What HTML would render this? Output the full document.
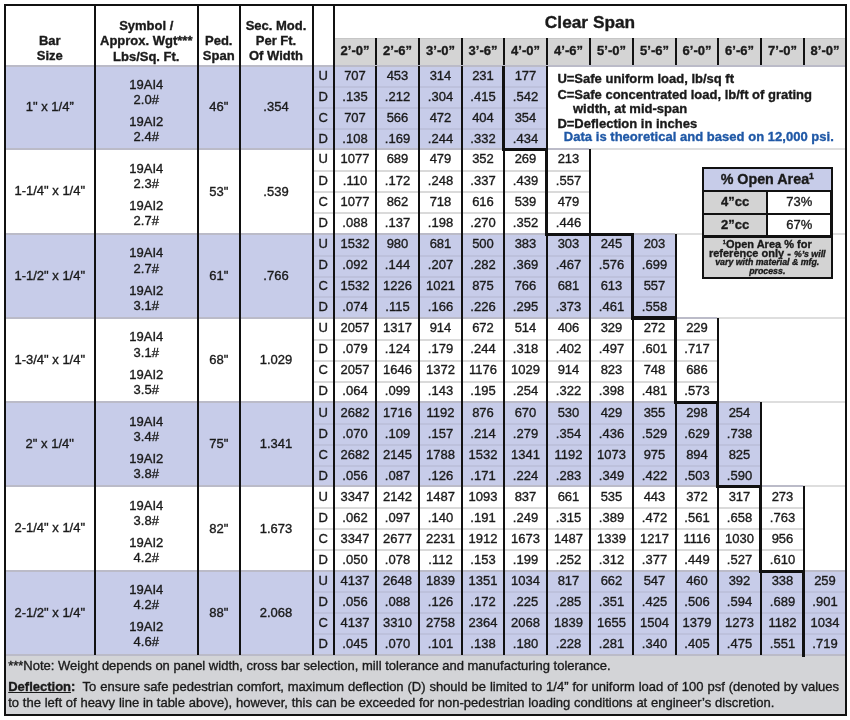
<!DOCTYPE html>
<html><head><meta charset="utf-8"><style>
html,body{margin:0;padding:0;background:#fff;}
body{width:850px;height:720px;position:relative;overflow:hidden;font-family:"Liberation Sans",sans-serif;}
#w{position:absolute;left:0;top:0;width:850px;height:720px;filter:blur(0.3px);}
#w>div{position:absolute;}
.t{white-space:nowrap;-webkit-text-stroke:0.35px currentColor;}
sup{font-size:60%;line-height:0;vertical-align:0.55em;}
sup.s{font-size:50%;vertical-align:0.7em;}
</style></head><body><div id="w">
<div style="left:333.00px;top:38.00px;width:512.00px;height:27.30px;background:#d4d4d4;"></div>
<div style="left:333.00px;top:38.00px;width:512.00px;height:1.00px;background:#c6c6c6;"></div>
<div style="left:4.00px;top:65.80px;width:542.00px;height:83.55px;background:#c7cce9;"></div>
<div style="left:4.00px;top:234.35px;width:671.00px;height:83.85px;background:#c7cce9;"></div>
<div style="left:4.00px;top:402.40px;width:756.00px;height:84.00px;background:#c7cce9;"></div>
<div style="left:4.00px;top:571.30px;width:841.00px;height:83.60px;background:#c7cce9;"></div>
<div style="left:4.00px;top:654.90px;width:841.00px;height:60.10px;background:#d3d4d7;"></div>
<div style="left:311.50px;top:85.94px;width:234.50px;height:2.00px;background:#bdc1dc;"></div>
<div style="left:311.50px;top:106.82px;width:234.50px;height:2.00px;background:#bdc1dc;"></div>
<div style="left:311.50px;top:127.71px;width:234.50px;height:2.00px;background:#bdc1dc;"></div>
<div style="left:311.50px;top:169.85px;width:277.50px;height:2.00px;background:#dadada;"></div>
<div style="left:311.50px;top:191.10px;width:277.50px;height:2.00px;background:#dadada;"></div>
<div style="left:311.50px;top:212.35px;width:277.50px;height:2.00px;background:#dadada;"></div>
<div style="left:311.50px;top:254.56px;width:363.50px;height:2.00px;background:#bdc1dc;"></div>
<div style="left:311.50px;top:275.52px;width:363.50px;height:2.00px;background:#bdc1dc;"></div>
<div style="left:311.50px;top:296.49px;width:363.50px;height:2.00px;background:#bdc1dc;"></div>
<div style="left:311.50px;top:338.50px;width:405.50px;height:2.00px;background:#dadada;"></div>
<div style="left:311.50px;top:359.55px;width:405.50px;height:2.00px;background:#dadada;"></div>
<div style="left:311.50px;top:380.60px;width:405.50px;height:2.00px;background:#dadada;"></div>
<div style="left:311.50px;top:422.65px;width:448.50px;height:2.00px;background:#bdc1dc;"></div>
<div style="left:311.50px;top:443.65px;width:448.50px;height:2.00px;background:#bdc1dc;"></div>
<div style="left:311.50px;top:464.65px;width:448.50px;height:2.00px;background:#bdc1dc;"></div>
<div style="left:311.50px;top:506.88px;width:491.50px;height:2.00px;background:#dadada;"></div>
<div style="left:311.50px;top:528.10px;width:491.50px;height:2.00px;background:#dadada;"></div>
<div style="left:311.50px;top:549.32px;width:491.50px;height:2.00px;background:#dadada;"></div>
<div style="left:311.50px;top:591.45px;width:533.50px;height:2.00px;background:#bdc1dc;"></div>
<div style="left:311.50px;top:612.35px;width:533.50px;height:2.00px;background:#bdc1dc;"></div>
<div style="left:311.50px;top:633.25px;width:533.50px;height:2.00px;background:#bdc1dc;"></div>
<div style="left:4.00px;top:64.80px;width:841.00px;height:2.20px;background:#bbbbc8;"></div>
<div style="left:4.00px;top:148.35px;width:585.00px;height:2.00px;background:#bbbbc8;"></div>
<div style="left:589.00px;top:148.35px;width:256.00px;height:2.00px;background:#dedede;"></div>
<div style="left:4.00px;top:233.35px;width:671.00px;height:2.00px;background:#bbbbc8;"></div>
<div style="left:675.00px;top:233.35px;width:170.00px;height:2.00px;background:#dedede;"></div>
<div style="left:4.00px;top:317.20px;width:713.00px;height:2.00px;background:#bbbbc8;"></div>
<div style="left:717.00px;top:317.20px;width:128.00px;height:2.00px;background:#dedede;"></div>
<div style="left:4.00px;top:401.40px;width:756.00px;height:2.00px;background:#bbbbc8;"></div>
<div style="left:760.00px;top:401.40px;width:85.00px;height:2.00px;background:#dedede;"></div>
<div style="left:4.00px;top:485.40px;width:799.00px;height:2.00px;background:#bbbbc8;"></div>
<div style="left:803.00px;top:485.40px;width:42.00px;height:2.00px;background:#dedede;"></div>
<div style="left:4.00px;top:570.30px;width:841.00px;height:2.00px;background:#bbbbc8;"></div>
<div style="left:4.00px;top:653.90px;width:841.00px;height:2.00px;background:#bbbbc8;"></div>
<div style="left:93.50px;top:4.00px;width:2.00px;height:650.90px;background:#111;"></div>
<div style="left:197.00px;top:4.00px;width:2.00px;height:650.90px;background:#111;"></div>
<div style="left:238.50px;top:4.00px;width:2.00px;height:650.90px;background:#111;"></div>
<div style="left:311.50px;top:4.00px;width:2.00px;height:650.90px;background:#111;"></div>
<div style="left:333.00px;top:4.00px;width:2.00px;height:650.90px;background:#111;"></div>
<div style="left:375.00px;top:38.00px;width:2.00px;height:27.30px;background:#111;"></div>
<div style="left:375.00px;top:65.80px;width:2.00px;height:83.55px;background:#111;"></div>
<div style="left:375.00px;top:149.35px;width:2.00px;height:85.00px;background:#111;"></div>
<div style="left:375.00px;top:234.35px;width:2.00px;height:83.85px;background:#111;"></div>
<div style="left:375.00px;top:318.20px;width:2.00px;height:84.20px;background:#111;"></div>
<div style="left:375.00px;top:402.40px;width:2.00px;height:84.00px;background:#111;"></div>
<div style="left:375.00px;top:486.40px;width:2.00px;height:84.90px;background:#111;"></div>
<div style="left:375.00px;top:571.30px;width:2.00px;height:83.60px;background:#111;"></div>
<div style="left:418.00px;top:38.00px;width:2.00px;height:27.30px;background:#111;"></div>
<div style="left:418.00px;top:65.80px;width:2.00px;height:83.55px;background:#111;"></div>
<div style="left:418.00px;top:149.35px;width:2.00px;height:85.00px;background:#111;"></div>
<div style="left:418.00px;top:234.35px;width:2.00px;height:83.85px;background:#111;"></div>
<div style="left:418.00px;top:318.20px;width:2.00px;height:84.20px;background:#111;"></div>
<div style="left:418.00px;top:402.40px;width:2.00px;height:84.00px;background:#111;"></div>
<div style="left:418.00px;top:486.40px;width:2.00px;height:84.90px;background:#111;"></div>
<div style="left:418.00px;top:571.30px;width:2.00px;height:83.60px;background:#111;"></div>
<div style="left:461.00px;top:38.00px;width:2.00px;height:27.30px;background:#111;"></div>
<div style="left:461.00px;top:65.80px;width:2.00px;height:83.55px;background:#111;"></div>
<div style="left:461.00px;top:149.35px;width:2.00px;height:85.00px;background:#111;"></div>
<div style="left:461.00px;top:234.35px;width:2.00px;height:83.85px;background:#111;"></div>
<div style="left:461.00px;top:318.20px;width:2.00px;height:84.20px;background:#111;"></div>
<div style="left:461.00px;top:402.40px;width:2.00px;height:84.00px;background:#111;"></div>
<div style="left:461.00px;top:486.40px;width:2.00px;height:84.90px;background:#111;"></div>
<div style="left:461.00px;top:571.30px;width:2.00px;height:83.60px;background:#111;"></div>
<div style="left:503.00px;top:38.00px;width:2.00px;height:27.30px;background:#111;"></div>
<div style="left:503.00px;top:65.80px;width:2.00px;height:83.55px;background:#111;"></div>
<div style="left:503.00px;top:149.35px;width:2.00px;height:85.00px;background:#111;"></div>
<div style="left:503.00px;top:234.35px;width:2.00px;height:83.85px;background:#111;"></div>
<div style="left:503.00px;top:318.20px;width:2.00px;height:84.20px;background:#111;"></div>
<div style="left:503.00px;top:402.40px;width:2.00px;height:84.00px;background:#111;"></div>
<div style="left:503.00px;top:486.40px;width:2.00px;height:84.90px;background:#111;"></div>
<div style="left:503.00px;top:571.30px;width:2.00px;height:83.60px;background:#111;"></div>
<div style="left:546.00px;top:38.00px;width:2.00px;height:27.30px;background:#111;"></div>
<div style="left:546.00px;top:65.80px;width:2.00px;height:83.55px;background:#111;"></div>
<div style="left:546.00px;top:149.35px;width:2.00px;height:85.00px;background:#111;"></div>
<div style="left:546.00px;top:234.35px;width:2.00px;height:83.85px;background:#111;"></div>
<div style="left:546.00px;top:318.20px;width:2.00px;height:84.20px;background:#111;"></div>
<div style="left:546.00px;top:402.40px;width:2.00px;height:84.00px;background:#111;"></div>
<div style="left:546.00px;top:486.40px;width:2.00px;height:84.90px;background:#111;"></div>
<div style="left:546.00px;top:571.30px;width:2.00px;height:83.60px;background:#111;"></div>
<div style="left:589.00px;top:38.00px;width:2.00px;height:27.30px;background:#111;"></div>
<div style="left:589.00px;top:149.35px;width:2.00px;height:85.00px;background:#111;"></div>
<div style="left:589.00px;top:234.35px;width:2.00px;height:83.85px;background:#111;"></div>
<div style="left:589.00px;top:318.20px;width:2.00px;height:84.20px;background:#111;"></div>
<div style="left:589.00px;top:402.40px;width:2.00px;height:84.00px;background:#111;"></div>
<div style="left:589.00px;top:486.40px;width:2.00px;height:84.90px;background:#111;"></div>
<div style="left:589.00px;top:571.30px;width:2.00px;height:83.60px;background:#111;"></div>
<div style="left:632.00px;top:38.00px;width:2.00px;height:27.30px;background:#111;"></div>
<div style="left:632.00px;top:234.35px;width:2.00px;height:83.85px;background:#111;"></div>
<div style="left:632.00px;top:318.20px;width:2.00px;height:84.20px;background:#111;"></div>
<div style="left:632.00px;top:402.40px;width:2.00px;height:84.00px;background:#111;"></div>
<div style="left:632.00px;top:486.40px;width:2.00px;height:84.90px;background:#111;"></div>
<div style="left:632.00px;top:571.30px;width:2.00px;height:83.60px;background:#111;"></div>
<div style="left:675.00px;top:38.00px;width:2.00px;height:27.30px;background:#111;"></div>
<div style="left:675.00px;top:234.35px;width:2.00px;height:83.85px;background:#111;"></div>
<div style="left:675.00px;top:318.20px;width:2.00px;height:84.20px;background:#111;"></div>
<div style="left:675.00px;top:402.40px;width:2.00px;height:84.00px;background:#111;"></div>
<div style="left:675.00px;top:486.40px;width:2.00px;height:84.90px;background:#111;"></div>
<div style="left:675.00px;top:571.30px;width:2.00px;height:83.60px;background:#111;"></div>
<div style="left:717.00px;top:38.00px;width:2.00px;height:27.30px;background:#111;"></div>
<div style="left:717.00px;top:318.20px;width:2.00px;height:84.20px;background:#111;"></div>
<div style="left:717.00px;top:402.40px;width:2.00px;height:84.00px;background:#111;"></div>
<div style="left:717.00px;top:486.40px;width:2.00px;height:84.90px;background:#111;"></div>
<div style="left:717.00px;top:571.30px;width:2.00px;height:83.60px;background:#111;"></div>
<div style="left:760.00px;top:38.00px;width:2.00px;height:27.30px;background:#111;"></div>
<div style="left:760.00px;top:402.40px;width:2.00px;height:84.00px;background:#111;"></div>
<div style="left:760.00px;top:486.40px;width:2.00px;height:84.90px;background:#111;"></div>
<div style="left:760.00px;top:571.30px;width:2.00px;height:83.60px;background:#111;"></div>
<div style="left:803.00px;top:38.00px;width:2.00px;height:27.30px;background:#111;"></div>
<div style="left:803.00px;top:486.40px;width:2.00px;height:84.90px;background:#111;"></div>
<div style="left:803.00px;top:571.30px;width:2.00px;height:83.60px;background:#111;"></div>
<div style="left:501.80px;top:65.80px;width:3.60px;height:85.35px;background:#111;"></div>
<div style="left:501.80px;top:147.55px;width:46.60px;height:3.60px;background:#111;"></div>
<div style="left:544.80px;top:147.55px;width:3.60px;height:88.60px;background:#111;"></div>
<div style="left:544.80px;top:232.55px;width:89.60px;height:3.60px;background:#111;"></div>
<div style="left:630.80px;top:232.55px;width:3.60px;height:87.45px;background:#111;"></div>
<div style="left:630.80px;top:316.40px;width:46.60px;height:3.60px;background:#111;"></div>
<div style="left:673.80px;top:316.40px;width:3.60px;height:87.80px;background:#111;"></div>
<div style="left:673.80px;top:400.60px;width:45.60px;height:3.60px;background:#111;"></div>
<div style="left:715.80px;top:400.60px;width:3.60px;height:87.60px;background:#111;"></div>
<div style="left:715.80px;top:484.60px;width:46.60px;height:3.60px;background:#111;"></div>
<div style="left:758.80px;top:484.60px;width:3.60px;height:88.50px;background:#111;"></div>
<div style="left:758.80px;top:569.50px;width:46.60px;height:3.60px;background:#111;"></div>
<div style="left:801.80px;top:569.50px;width:3.60px;height:87.20px;background:#111;"></div>
<div style="left:4.00px;top:4.00px;width:843.00px;height:2.00px;background:#111;"></div>
<div style="left:4.00px;top:714.00px;width:843.00px;height:2.00px;background:#111;"></div>
<div style="left:4.00px;top:4.00px;width:2.00px;height:712.00px;background:#111;"></div>
<div style="left:845.00px;top:4.00px;width:2.00px;height:712.00px;background:#111;"></div>
<div class="t" style="left:6.00px;top:32.90px;width:87.50px;line-height:15px;font-size:13px;font-weight:bold;text-align:center;color:#1a1a1a;font-style:normal;">Bar</div>
<div class="t" style="left:6.00px;top:48.20px;width:87.50px;line-height:15px;font-size:13px;font-weight:bold;text-align:center;color:#1a1a1a;font-style:normal;">Size</div>
<div class="t" style="left:95.50px;top:17.90px;width:101.50px;line-height:15px;font-size:13px;font-weight:bold;text-align:center;color:#1a1a1a;font-style:normal;">Symbol /</div>
<div class="t" style="left:95.50px;top:33.20px;width:101.50px;line-height:15px;font-size:13px;font-weight:bold;text-align:center;color:#1a1a1a;font-style:normal;">Approx. Wgt***</div>
<div class="t" style="left:95.50px;top:48.50px;width:101.50px;line-height:15px;font-size:13px;font-weight:bold;text-align:center;color:#1a1a1a;font-style:normal;">Lbs/Sq. Ft.</div>
<div class="t" style="left:199.00px;top:33.00px;width:39.50px;line-height:15px;font-size:13px;font-weight:bold;text-align:center;color:#1a1a1a;font-style:normal;">Ped.</div>
<div class="t" style="left:199.00px;top:48.20px;width:39.50px;line-height:15px;font-size:13px;font-weight:bold;text-align:center;color:#1a1a1a;font-style:normal;">Span</div>
<div class="t" style="left:240.50px;top:17.90px;width:71.00px;line-height:15px;font-size:13px;font-weight:bold;text-align:center;color:#1a1a1a;font-style:normal;">Sec. Mod.</div>
<div class="t" style="left:240.50px;top:33.10px;width:71.00px;line-height:15px;font-size:13px;font-weight:bold;text-align:center;color:#1a1a1a;font-style:normal;">Per Ft.</div>
<div class="t" style="left:240.50px;top:48.30px;width:71.00px;line-height:15px;font-size:13px;font-weight:bold;text-align:center;color:#1a1a1a;font-style:normal;">Of Width</div>
<div class="t" style="left:335.00px;top:12.00px;width:510.00px;line-height:20px;font-size:17.3px;font-weight:bold;text-align:center;color:#1a1a1a;font-style:normal;">Clear Span</div>
<div class="t" style="left:335.00px;top:43.10px;width:40.00px;line-height:15px;font-size:13px;font-weight:bold;text-align:center;color:#1a1a1a;font-style:normal;">2’-0”</div>
<div class="t" style="left:377.00px;top:43.10px;width:41.00px;line-height:15px;font-size:13px;font-weight:bold;text-align:center;color:#1a1a1a;font-style:normal;">2’-6”</div>
<div class="t" style="left:420.00px;top:43.10px;width:41.00px;line-height:15px;font-size:13px;font-weight:bold;text-align:center;color:#1a1a1a;font-style:normal;">3’-0”</div>
<div class="t" style="left:463.00px;top:43.10px;width:40.00px;line-height:15px;font-size:13px;font-weight:bold;text-align:center;color:#1a1a1a;font-style:normal;">3’-6”</div>
<div class="t" style="left:505.00px;top:43.10px;width:41.00px;line-height:15px;font-size:13px;font-weight:bold;text-align:center;color:#1a1a1a;font-style:normal;">4’-0”</div>
<div class="t" style="left:548.00px;top:43.10px;width:41.00px;line-height:15px;font-size:13px;font-weight:bold;text-align:center;color:#1a1a1a;font-style:normal;">4’-6”</div>
<div class="t" style="left:591.00px;top:43.10px;width:41.00px;line-height:15px;font-size:13px;font-weight:bold;text-align:center;color:#1a1a1a;font-style:normal;">5’-0”</div>
<div class="t" style="left:634.00px;top:43.10px;width:41.00px;line-height:15px;font-size:13px;font-weight:bold;text-align:center;color:#1a1a1a;font-style:normal;">5’-6”</div>
<div class="t" style="left:677.00px;top:43.10px;width:40.00px;line-height:15px;font-size:13px;font-weight:bold;text-align:center;color:#1a1a1a;font-style:normal;">6’-0”</div>
<div class="t" style="left:719.00px;top:43.10px;width:41.00px;line-height:15px;font-size:13px;font-weight:bold;text-align:center;color:#1a1a1a;font-style:normal;">6’-6”</div>
<div class="t" style="left:762.00px;top:43.10px;width:41.00px;line-height:15px;font-size:13px;font-weight:bold;text-align:center;color:#1a1a1a;font-style:normal;">7’-0”</div>
<div class="t" style="left:805.00px;top:43.10px;width:40.00px;line-height:15px;font-size:13px;font-weight:bold;text-align:center;color:#1a1a1a;font-style:normal;">8’-0”</div>
<div class="t" style="left:6.00px;top:99.07px;width:87.50px;line-height:15px;font-size:13px;font-weight:normal;text-align:center;color:#1a1a1a;font-style:normal;">1" x 1/4”</div>
<div class="t" style="left:95.50px;top:76.67px;width:101.50px;line-height:15px;font-size:13px;font-weight:normal;text-align:center;color:#1a1a1a;font-style:normal;">19AI4</div>
<div class="t" style="left:95.50px;top:91.87px;width:101.50px;line-height:15px;font-size:13px;font-weight:normal;text-align:center;color:#1a1a1a;font-style:normal;">2.0#</div>
<div class="t" style="left:95.50px;top:113.87px;width:101.50px;line-height:15px;font-size:13px;font-weight:normal;text-align:center;color:#1a1a1a;font-style:normal;">19AI2</div>
<div class="t" style="left:95.50px;top:128.88px;width:101.50px;line-height:15px;font-size:13px;font-weight:normal;text-align:center;color:#1a1a1a;font-style:normal;">2.4#</div>
<div class="t" style="left:199.00px;top:99.47px;width:39.50px;line-height:15px;font-size:13px;font-weight:normal;text-align:center;color:#1a1a1a;font-style:normal;">46"</div>
<div class="t" style="left:240.50px;top:99.47px;width:71.00px;line-height:15px;font-size:13px;font-weight:normal;text-align:center;color:#1a1a1a;font-style:normal;">.354</div>
<div class="t" style="left:313.50px;top:67.90px;width:19.50px;line-height:15px;font-size:13px;font-weight:normal;text-align:center;color:#1a1a1a;font-style:normal;">U</div>
<div class="t" style="left:335.00px;top:67.90px;width:40.00px;line-height:15px;font-size:13px;font-weight:normal;text-align:center;color:#1a1a1a;font-style:normal;">707</div>
<div class="t" style="left:377.00px;top:67.90px;width:41.00px;line-height:15px;font-size:13px;font-weight:normal;text-align:center;color:#1a1a1a;font-style:normal;">453</div>
<div class="t" style="left:420.00px;top:67.90px;width:41.00px;line-height:15px;font-size:13px;font-weight:normal;text-align:center;color:#1a1a1a;font-style:normal;">314</div>
<div class="t" style="left:463.00px;top:67.90px;width:40.00px;line-height:15px;font-size:13px;font-weight:normal;text-align:center;color:#1a1a1a;font-style:normal;">231</div>
<div class="t" style="left:505.00px;top:67.90px;width:41.00px;line-height:15px;font-size:13px;font-weight:normal;text-align:center;color:#1a1a1a;font-style:normal;">177</div>
<div class="t" style="left:313.50px;top:88.79px;width:19.50px;line-height:15px;font-size:13px;font-weight:normal;text-align:center;color:#1a1a1a;font-style:normal;">D</div>
<div class="t" style="left:335.00px;top:88.79px;width:40.00px;line-height:15px;font-size:13px;font-weight:normal;text-align:center;color:#1a1a1a;font-style:normal;">.135</div>
<div class="t" style="left:377.00px;top:88.79px;width:41.00px;line-height:15px;font-size:13px;font-weight:normal;text-align:center;color:#1a1a1a;font-style:normal;">.212</div>
<div class="t" style="left:420.00px;top:88.79px;width:41.00px;line-height:15px;font-size:13px;font-weight:normal;text-align:center;color:#1a1a1a;font-style:normal;">.304</div>
<div class="t" style="left:463.00px;top:88.79px;width:40.00px;line-height:15px;font-size:13px;font-weight:normal;text-align:center;color:#1a1a1a;font-style:normal;">.415</div>
<div class="t" style="left:505.00px;top:88.79px;width:41.00px;line-height:15px;font-size:13px;font-weight:normal;text-align:center;color:#1a1a1a;font-style:normal;">.542</div>
<div class="t" style="left:313.50px;top:109.67px;width:19.50px;line-height:15px;font-size:13px;font-weight:normal;text-align:center;color:#1a1a1a;font-style:normal;">C</div>
<div class="t" style="left:335.00px;top:109.67px;width:40.00px;line-height:15px;font-size:13px;font-weight:normal;text-align:center;color:#1a1a1a;font-style:normal;">707</div>
<div class="t" style="left:377.00px;top:109.67px;width:41.00px;line-height:15px;font-size:13px;font-weight:normal;text-align:center;color:#1a1a1a;font-style:normal;">566</div>
<div class="t" style="left:420.00px;top:109.67px;width:41.00px;line-height:15px;font-size:13px;font-weight:normal;text-align:center;color:#1a1a1a;font-style:normal;">472</div>
<div class="t" style="left:463.00px;top:109.67px;width:40.00px;line-height:15px;font-size:13px;font-weight:normal;text-align:center;color:#1a1a1a;font-style:normal;">404</div>
<div class="t" style="left:505.00px;top:109.67px;width:41.00px;line-height:15px;font-size:13px;font-weight:normal;text-align:center;color:#1a1a1a;font-style:normal;">354</div>
<div class="t" style="left:313.50px;top:130.56px;width:19.50px;line-height:15px;font-size:13px;font-weight:normal;text-align:center;color:#1a1a1a;font-style:normal;">D</div>
<div class="t" style="left:335.00px;top:130.56px;width:40.00px;line-height:15px;font-size:13px;font-weight:normal;text-align:center;color:#1a1a1a;font-style:normal;">.108</div>
<div class="t" style="left:377.00px;top:130.56px;width:41.00px;line-height:15px;font-size:13px;font-weight:normal;text-align:center;color:#1a1a1a;font-style:normal;">.169</div>
<div class="t" style="left:420.00px;top:130.56px;width:41.00px;line-height:15px;font-size:13px;font-weight:normal;text-align:center;color:#1a1a1a;font-style:normal;">.244</div>
<div class="t" style="left:463.00px;top:130.56px;width:40.00px;line-height:15px;font-size:13px;font-weight:normal;text-align:center;color:#1a1a1a;font-style:normal;">.332</div>
<div class="t" style="left:505.00px;top:130.56px;width:41.00px;line-height:15px;font-size:13px;font-weight:normal;text-align:center;color:#1a1a1a;font-style:normal;">.434</div>
<div class="t" style="left:6.00px;top:183.35px;width:87.50px;line-height:15px;font-size:13px;font-weight:normal;text-align:center;color:#1a1a1a;font-style:normal;">1-1/4" x 1/4"</div>
<div class="t" style="left:95.50px;top:160.95px;width:101.50px;line-height:15px;font-size:13px;font-weight:normal;text-align:center;color:#1a1a1a;font-style:normal;">19AI4</div>
<div class="t" style="left:95.50px;top:176.15px;width:101.50px;line-height:15px;font-size:13px;font-weight:normal;text-align:center;color:#1a1a1a;font-style:normal;">2.3#</div>
<div class="t" style="left:95.50px;top:198.15px;width:101.50px;line-height:15px;font-size:13px;font-weight:normal;text-align:center;color:#1a1a1a;font-style:normal;">19AI2</div>
<div class="t" style="left:95.50px;top:213.15px;width:101.50px;line-height:15px;font-size:13px;font-weight:normal;text-align:center;color:#1a1a1a;font-style:normal;">2.7#</div>
<div class="t" style="left:199.00px;top:183.75px;width:39.50px;line-height:15px;font-size:13px;font-weight:normal;text-align:center;color:#1a1a1a;font-style:normal;">53"</div>
<div class="t" style="left:240.50px;top:183.75px;width:71.00px;line-height:15px;font-size:13px;font-weight:normal;text-align:center;color:#1a1a1a;font-style:normal;">.539</div>
<div class="t" style="left:313.50px;top:151.45px;width:19.50px;line-height:15px;font-size:13px;font-weight:normal;text-align:center;color:#1a1a1a;font-style:normal;">U</div>
<div class="t" style="left:335.00px;top:151.45px;width:40.00px;line-height:15px;font-size:13px;font-weight:normal;text-align:center;color:#1a1a1a;font-style:normal;">1077</div>
<div class="t" style="left:377.00px;top:151.45px;width:41.00px;line-height:15px;font-size:13px;font-weight:normal;text-align:center;color:#1a1a1a;font-style:normal;">689</div>
<div class="t" style="left:420.00px;top:151.45px;width:41.00px;line-height:15px;font-size:13px;font-weight:normal;text-align:center;color:#1a1a1a;font-style:normal;">479</div>
<div class="t" style="left:463.00px;top:151.45px;width:40.00px;line-height:15px;font-size:13px;font-weight:normal;text-align:center;color:#1a1a1a;font-style:normal;">352</div>
<div class="t" style="left:505.00px;top:151.45px;width:41.00px;line-height:15px;font-size:13px;font-weight:normal;text-align:center;color:#1a1a1a;font-style:normal;">269</div>
<div class="t" style="left:548.00px;top:151.45px;width:41.00px;line-height:15px;font-size:13px;font-weight:normal;text-align:center;color:#1a1a1a;font-style:normal;">213</div>
<div class="t" style="left:313.50px;top:172.70px;width:19.50px;line-height:15px;font-size:13px;font-weight:normal;text-align:center;color:#1a1a1a;font-style:normal;">D</div>
<div class="t" style="left:335.00px;top:172.70px;width:40.00px;line-height:15px;font-size:13px;font-weight:normal;text-align:center;color:#1a1a1a;font-style:normal;">.110</div>
<div class="t" style="left:377.00px;top:172.70px;width:41.00px;line-height:15px;font-size:13px;font-weight:normal;text-align:center;color:#1a1a1a;font-style:normal;">.172</div>
<div class="t" style="left:420.00px;top:172.70px;width:41.00px;line-height:15px;font-size:13px;font-weight:normal;text-align:center;color:#1a1a1a;font-style:normal;">.248</div>
<div class="t" style="left:463.00px;top:172.70px;width:40.00px;line-height:15px;font-size:13px;font-weight:normal;text-align:center;color:#1a1a1a;font-style:normal;">.337</div>
<div class="t" style="left:505.00px;top:172.70px;width:41.00px;line-height:15px;font-size:13px;font-weight:normal;text-align:center;color:#1a1a1a;font-style:normal;">.439</div>
<div class="t" style="left:548.00px;top:172.70px;width:41.00px;line-height:15px;font-size:13px;font-weight:normal;text-align:center;color:#1a1a1a;font-style:normal;">.557</div>
<div class="t" style="left:313.50px;top:193.95px;width:19.50px;line-height:15px;font-size:13px;font-weight:normal;text-align:center;color:#1a1a1a;font-style:normal;">C</div>
<div class="t" style="left:335.00px;top:193.95px;width:40.00px;line-height:15px;font-size:13px;font-weight:normal;text-align:center;color:#1a1a1a;font-style:normal;">1077</div>
<div class="t" style="left:377.00px;top:193.95px;width:41.00px;line-height:15px;font-size:13px;font-weight:normal;text-align:center;color:#1a1a1a;font-style:normal;">862</div>
<div class="t" style="left:420.00px;top:193.95px;width:41.00px;line-height:15px;font-size:13px;font-weight:normal;text-align:center;color:#1a1a1a;font-style:normal;">718</div>
<div class="t" style="left:463.00px;top:193.95px;width:40.00px;line-height:15px;font-size:13px;font-weight:normal;text-align:center;color:#1a1a1a;font-style:normal;">616</div>
<div class="t" style="left:505.00px;top:193.95px;width:41.00px;line-height:15px;font-size:13px;font-weight:normal;text-align:center;color:#1a1a1a;font-style:normal;">539</div>
<div class="t" style="left:548.00px;top:193.95px;width:41.00px;line-height:15px;font-size:13px;font-weight:normal;text-align:center;color:#1a1a1a;font-style:normal;">479</div>
<div class="t" style="left:313.50px;top:215.20px;width:19.50px;line-height:15px;font-size:13px;font-weight:normal;text-align:center;color:#1a1a1a;font-style:normal;">D</div>
<div class="t" style="left:335.00px;top:215.20px;width:40.00px;line-height:15px;font-size:13px;font-weight:normal;text-align:center;color:#1a1a1a;font-style:normal;">.088</div>
<div class="t" style="left:377.00px;top:215.20px;width:41.00px;line-height:15px;font-size:13px;font-weight:normal;text-align:center;color:#1a1a1a;font-style:normal;">.137</div>
<div class="t" style="left:420.00px;top:215.20px;width:41.00px;line-height:15px;font-size:13px;font-weight:normal;text-align:center;color:#1a1a1a;font-style:normal;">.198</div>
<div class="t" style="left:463.00px;top:215.20px;width:40.00px;line-height:15px;font-size:13px;font-weight:normal;text-align:center;color:#1a1a1a;font-style:normal;">.270</div>
<div class="t" style="left:505.00px;top:215.20px;width:41.00px;line-height:15px;font-size:13px;font-weight:normal;text-align:center;color:#1a1a1a;font-style:normal;">.352</div>
<div class="t" style="left:548.00px;top:215.20px;width:41.00px;line-height:15px;font-size:13px;font-weight:normal;text-align:center;color:#1a1a1a;font-style:normal;">.446</div>
<div class="t" style="left:6.00px;top:267.77px;width:87.50px;line-height:15px;font-size:13px;font-weight:normal;text-align:center;color:#1a1a1a;font-style:normal;">1-1/2" x 1/4"</div>
<div class="t" style="left:95.50px;top:245.38px;width:101.50px;line-height:15px;font-size:13px;font-weight:normal;text-align:center;color:#1a1a1a;font-style:normal;">19AI4</div>
<div class="t" style="left:95.50px;top:260.57px;width:101.50px;line-height:15px;font-size:13px;font-weight:normal;text-align:center;color:#1a1a1a;font-style:normal;">2.7#</div>
<div class="t" style="left:95.50px;top:282.57px;width:101.50px;line-height:15px;font-size:13px;font-weight:normal;text-align:center;color:#1a1a1a;font-style:normal;">19AI2</div>
<div class="t" style="left:95.50px;top:297.57px;width:101.50px;line-height:15px;font-size:13px;font-weight:normal;text-align:center;color:#1a1a1a;font-style:normal;">3.1#</div>
<div class="t" style="left:199.00px;top:268.17px;width:39.50px;line-height:15px;font-size:13px;font-weight:normal;text-align:center;color:#1a1a1a;font-style:normal;">61"</div>
<div class="t" style="left:240.50px;top:268.17px;width:71.00px;line-height:15px;font-size:13px;font-weight:normal;text-align:center;color:#1a1a1a;font-style:normal;">.766</div>
<div class="t" style="left:313.50px;top:236.45px;width:19.50px;line-height:15px;font-size:13px;font-weight:normal;text-align:center;color:#1a1a1a;font-style:normal;">U</div>
<div class="t" style="left:335.00px;top:236.45px;width:40.00px;line-height:15px;font-size:13px;font-weight:normal;text-align:center;color:#1a1a1a;font-style:normal;">1532</div>
<div class="t" style="left:377.00px;top:236.45px;width:41.00px;line-height:15px;font-size:13px;font-weight:normal;text-align:center;color:#1a1a1a;font-style:normal;">980</div>
<div class="t" style="left:420.00px;top:236.45px;width:41.00px;line-height:15px;font-size:13px;font-weight:normal;text-align:center;color:#1a1a1a;font-style:normal;">681</div>
<div class="t" style="left:463.00px;top:236.45px;width:40.00px;line-height:15px;font-size:13px;font-weight:normal;text-align:center;color:#1a1a1a;font-style:normal;">500</div>
<div class="t" style="left:505.00px;top:236.45px;width:41.00px;line-height:15px;font-size:13px;font-weight:normal;text-align:center;color:#1a1a1a;font-style:normal;">383</div>
<div class="t" style="left:548.00px;top:236.45px;width:41.00px;line-height:15px;font-size:13px;font-weight:normal;text-align:center;color:#1a1a1a;font-style:normal;">303</div>
<div class="t" style="left:591.00px;top:236.45px;width:41.00px;line-height:15px;font-size:13px;font-weight:normal;text-align:center;color:#1a1a1a;font-style:normal;">245</div>
<div class="t" style="left:634.00px;top:236.45px;width:41.00px;line-height:15px;font-size:13px;font-weight:normal;text-align:center;color:#1a1a1a;font-style:normal;">203</div>
<div class="t" style="left:313.50px;top:257.41px;width:19.50px;line-height:15px;font-size:13px;font-weight:normal;text-align:center;color:#1a1a1a;font-style:normal;">D</div>
<div class="t" style="left:335.00px;top:257.41px;width:40.00px;line-height:15px;font-size:13px;font-weight:normal;text-align:center;color:#1a1a1a;font-style:normal;">.092</div>
<div class="t" style="left:377.00px;top:257.41px;width:41.00px;line-height:15px;font-size:13px;font-weight:normal;text-align:center;color:#1a1a1a;font-style:normal;">.144</div>
<div class="t" style="left:420.00px;top:257.41px;width:41.00px;line-height:15px;font-size:13px;font-weight:normal;text-align:center;color:#1a1a1a;font-style:normal;">.207</div>
<div class="t" style="left:463.00px;top:257.41px;width:40.00px;line-height:15px;font-size:13px;font-weight:normal;text-align:center;color:#1a1a1a;font-style:normal;">.282</div>
<div class="t" style="left:505.00px;top:257.41px;width:41.00px;line-height:15px;font-size:13px;font-weight:normal;text-align:center;color:#1a1a1a;font-style:normal;">.369</div>
<div class="t" style="left:548.00px;top:257.41px;width:41.00px;line-height:15px;font-size:13px;font-weight:normal;text-align:center;color:#1a1a1a;font-style:normal;">.467</div>
<div class="t" style="left:591.00px;top:257.41px;width:41.00px;line-height:15px;font-size:13px;font-weight:normal;text-align:center;color:#1a1a1a;font-style:normal;">.576</div>
<div class="t" style="left:634.00px;top:257.41px;width:41.00px;line-height:15px;font-size:13px;font-weight:normal;text-align:center;color:#1a1a1a;font-style:normal;">.699</div>
<div class="t" style="left:313.50px;top:278.38px;width:19.50px;line-height:15px;font-size:13px;font-weight:normal;text-align:center;color:#1a1a1a;font-style:normal;">C</div>
<div class="t" style="left:335.00px;top:278.38px;width:40.00px;line-height:15px;font-size:13px;font-weight:normal;text-align:center;color:#1a1a1a;font-style:normal;">1532</div>
<div class="t" style="left:377.00px;top:278.38px;width:41.00px;line-height:15px;font-size:13px;font-weight:normal;text-align:center;color:#1a1a1a;font-style:normal;">1226</div>
<div class="t" style="left:420.00px;top:278.38px;width:41.00px;line-height:15px;font-size:13px;font-weight:normal;text-align:center;color:#1a1a1a;font-style:normal;">1021</div>
<div class="t" style="left:463.00px;top:278.38px;width:40.00px;line-height:15px;font-size:13px;font-weight:normal;text-align:center;color:#1a1a1a;font-style:normal;">875</div>
<div class="t" style="left:505.00px;top:278.38px;width:41.00px;line-height:15px;font-size:13px;font-weight:normal;text-align:center;color:#1a1a1a;font-style:normal;">766</div>
<div class="t" style="left:548.00px;top:278.38px;width:41.00px;line-height:15px;font-size:13px;font-weight:normal;text-align:center;color:#1a1a1a;font-style:normal;">681</div>
<div class="t" style="left:591.00px;top:278.38px;width:41.00px;line-height:15px;font-size:13px;font-weight:normal;text-align:center;color:#1a1a1a;font-style:normal;">613</div>
<div class="t" style="left:634.00px;top:278.38px;width:41.00px;line-height:15px;font-size:13px;font-weight:normal;text-align:center;color:#1a1a1a;font-style:normal;">557</div>
<div class="t" style="left:313.50px;top:299.34px;width:19.50px;line-height:15px;font-size:13px;font-weight:normal;text-align:center;color:#1a1a1a;font-style:normal;">D</div>
<div class="t" style="left:335.00px;top:299.34px;width:40.00px;line-height:15px;font-size:13px;font-weight:normal;text-align:center;color:#1a1a1a;font-style:normal;">.074</div>
<div class="t" style="left:377.00px;top:299.34px;width:41.00px;line-height:15px;font-size:13px;font-weight:normal;text-align:center;color:#1a1a1a;font-style:normal;">.115</div>
<div class="t" style="left:420.00px;top:299.34px;width:41.00px;line-height:15px;font-size:13px;font-weight:normal;text-align:center;color:#1a1a1a;font-style:normal;">.166</div>
<div class="t" style="left:463.00px;top:299.34px;width:40.00px;line-height:15px;font-size:13px;font-weight:normal;text-align:center;color:#1a1a1a;font-style:normal;">.226</div>
<div class="t" style="left:505.00px;top:299.34px;width:41.00px;line-height:15px;font-size:13px;font-weight:normal;text-align:center;color:#1a1a1a;font-style:normal;">.295</div>
<div class="t" style="left:548.00px;top:299.34px;width:41.00px;line-height:15px;font-size:13px;font-weight:normal;text-align:center;color:#1a1a1a;font-style:normal;">.373</div>
<div class="t" style="left:591.00px;top:299.34px;width:41.00px;line-height:15px;font-size:13px;font-weight:normal;text-align:center;color:#1a1a1a;font-style:normal;">.461</div>
<div class="t" style="left:634.00px;top:299.34px;width:41.00px;line-height:15px;font-size:13px;font-weight:normal;text-align:center;color:#1a1a1a;font-style:normal;">.558</div>
<div class="t" style="left:6.00px;top:351.80px;width:87.50px;line-height:15px;font-size:13px;font-weight:normal;text-align:center;color:#1a1a1a;font-style:normal;">1-3/4" x 1/4"</div>
<div class="t" style="left:95.50px;top:329.40px;width:101.50px;line-height:15px;font-size:13px;font-weight:normal;text-align:center;color:#1a1a1a;font-style:normal;">19AI4</div>
<div class="t" style="left:95.50px;top:344.60px;width:101.50px;line-height:15px;font-size:13px;font-weight:normal;text-align:center;color:#1a1a1a;font-style:normal;">3.1#</div>
<div class="t" style="left:95.50px;top:366.60px;width:101.50px;line-height:15px;font-size:13px;font-weight:normal;text-align:center;color:#1a1a1a;font-style:normal;">19AI2</div>
<div class="t" style="left:95.50px;top:381.60px;width:101.50px;line-height:15px;font-size:13px;font-weight:normal;text-align:center;color:#1a1a1a;font-style:normal;">3.5#</div>
<div class="t" style="left:199.00px;top:352.20px;width:39.50px;line-height:15px;font-size:13px;font-weight:normal;text-align:center;color:#1a1a1a;font-style:normal;">68"</div>
<div class="t" style="left:240.50px;top:352.20px;width:71.00px;line-height:15px;font-size:13px;font-weight:normal;text-align:center;color:#1a1a1a;font-style:normal;">1.029</div>
<div class="t" style="left:313.50px;top:320.30px;width:19.50px;line-height:15px;font-size:13px;font-weight:normal;text-align:center;color:#1a1a1a;font-style:normal;">U</div>
<div class="t" style="left:335.00px;top:320.30px;width:40.00px;line-height:15px;font-size:13px;font-weight:normal;text-align:center;color:#1a1a1a;font-style:normal;">2057</div>
<div class="t" style="left:377.00px;top:320.30px;width:41.00px;line-height:15px;font-size:13px;font-weight:normal;text-align:center;color:#1a1a1a;font-style:normal;">1317</div>
<div class="t" style="left:420.00px;top:320.30px;width:41.00px;line-height:15px;font-size:13px;font-weight:normal;text-align:center;color:#1a1a1a;font-style:normal;">914</div>
<div class="t" style="left:463.00px;top:320.30px;width:40.00px;line-height:15px;font-size:13px;font-weight:normal;text-align:center;color:#1a1a1a;font-style:normal;">672</div>
<div class="t" style="left:505.00px;top:320.30px;width:41.00px;line-height:15px;font-size:13px;font-weight:normal;text-align:center;color:#1a1a1a;font-style:normal;">514</div>
<div class="t" style="left:548.00px;top:320.30px;width:41.00px;line-height:15px;font-size:13px;font-weight:normal;text-align:center;color:#1a1a1a;font-style:normal;">406</div>
<div class="t" style="left:591.00px;top:320.30px;width:41.00px;line-height:15px;font-size:13px;font-weight:normal;text-align:center;color:#1a1a1a;font-style:normal;">329</div>
<div class="t" style="left:634.00px;top:320.30px;width:41.00px;line-height:15px;font-size:13px;font-weight:normal;text-align:center;color:#1a1a1a;font-style:normal;">272</div>
<div class="t" style="left:677.00px;top:320.30px;width:40.00px;line-height:15px;font-size:13px;font-weight:normal;text-align:center;color:#1a1a1a;font-style:normal;">229</div>
<div class="t" style="left:313.50px;top:341.35px;width:19.50px;line-height:15px;font-size:13px;font-weight:normal;text-align:center;color:#1a1a1a;font-style:normal;">D</div>
<div class="t" style="left:335.00px;top:341.35px;width:40.00px;line-height:15px;font-size:13px;font-weight:normal;text-align:center;color:#1a1a1a;font-style:normal;">.079</div>
<div class="t" style="left:377.00px;top:341.35px;width:41.00px;line-height:15px;font-size:13px;font-weight:normal;text-align:center;color:#1a1a1a;font-style:normal;">.124</div>
<div class="t" style="left:420.00px;top:341.35px;width:41.00px;line-height:15px;font-size:13px;font-weight:normal;text-align:center;color:#1a1a1a;font-style:normal;">.179</div>
<div class="t" style="left:463.00px;top:341.35px;width:40.00px;line-height:15px;font-size:13px;font-weight:normal;text-align:center;color:#1a1a1a;font-style:normal;">.244</div>
<div class="t" style="left:505.00px;top:341.35px;width:41.00px;line-height:15px;font-size:13px;font-weight:normal;text-align:center;color:#1a1a1a;font-style:normal;">.318</div>
<div class="t" style="left:548.00px;top:341.35px;width:41.00px;line-height:15px;font-size:13px;font-weight:normal;text-align:center;color:#1a1a1a;font-style:normal;">.402</div>
<div class="t" style="left:591.00px;top:341.35px;width:41.00px;line-height:15px;font-size:13px;font-weight:normal;text-align:center;color:#1a1a1a;font-style:normal;">.497</div>
<div class="t" style="left:634.00px;top:341.35px;width:41.00px;line-height:15px;font-size:13px;font-weight:normal;text-align:center;color:#1a1a1a;font-style:normal;">.601</div>
<div class="t" style="left:677.00px;top:341.35px;width:40.00px;line-height:15px;font-size:13px;font-weight:normal;text-align:center;color:#1a1a1a;font-style:normal;">.717</div>
<div class="t" style="left:313.50px;top:362.40px;width:19.50px;line-height:15px;font-size:13px;font-weight:normal;text-align:center;color:#1a1a1a;font-style:normal;">C</div>
<div class="t" style="left:335.00px;top:362.40px;width:40.00px;line-height:15px;font-size:13px;font-weight:normal;text-align:center;color:#1a1a1a;font-style:normal;">2057</div>
<div class="t" style="left:377.00px;top:362.40px;width:41.00px;line-height:15px;font-size:13px;font-weight:normal;text-align:center;color:#1a1a1a;font-style:normal;">1646</div>
<div class="t" style="left:420.00px;top:362.40px;width:41.00px;line-height:15px;font-size:13px;font-weight:normal;text-align:center;color:#1a1a1a;font-style:normal;">1372</div>
<div class="t" style="left:463.00px;top:362.40px;width:40.00px;line-height:15px;font-size:13px;font-weight:normal;text-align:center;color:#1a1a1a;font-style:normal;">1176</div>
<div class="t" style="left:505.00px;top:362.40px;width:41.00px;line-height:15px;font-size:13px;font-weight:normal;text-align:center;color:#1a1a1a;font-style:normal;">1029</div>
<div class="t" style="left:548.00px;top:362.40px;width:41.00px;line-height:15px;font-size:13px;font-weight:normal;text-align:center;color:#1a1a1a;font-style:normal;">914</div>
<div class="t" style="left:591.00px;top:362.40px;width:41.00px;line-height:15px;font-size:13px;font-weight:normal;text-align:center;color:#1a1a1a;font-style:normal;">823</div>
<div class="t" style="left:634.00px;top:362.40px;width:41.00px;line-height:15px;font-size:13px;font-weight:normal;text-align:center;color:#1a1a1a;font-style:normal;">748</div>
<div class="t" style="left:677.00px;top:362.40px;width:40.00px;line-height:15px;font-size:13px;font-weight:normal;text-align:center;color:#1a1a1a;font-style:normal;">686</div>
<div class="t" style="left:313.50px;top:383.45px;width:19.50px;line-height:15px;font-size:13px;font-weight:normal;text-align:center;color:#1a1a1a;font-style:normal;">D</div>
<div class="t" style="left:335.00px;top:383.45px;width:40.00px;line-height:15px;font-size:13px;font-weight:normal;text-align:center;color:#1a1a1a;font-style:normal;">.064</div>
<div class="t" style="left:377.00px;top:383.45px;width:41.00px;line-height:15px;font-size:13px;font-weight:normal;text-align:center;color:#1a1a1a;font-style:normal;">.099</div>
<div class="t" style="left:420.00px;top:383.45px;width:41.00px;line-height:15px;font-size:13px;font-weight:normal;text-align:center;color:#1a1a1a;font-style:normal;">.143</div>
<div class="t" style="left:463.00px;top:383.45px;width:40.00px;line-height:15px;font-size:13px;font-weight:normal;text-align:center;color:#1a1a1a;font-style:normal;">.195</div>
<div class="t" style="left:505.00px;top:383.45px;width:41.00px;line-height:15px;font-size:13px;font-weight:normal;text-align:center;color:#1a1a1a;font-style:normal;">.254</div>
<div class="t" style="left:548.00px;top:383.45px;width:41.00px;line-height:15px;font-size:13px;font-weight:normal;text-align:center;color:#1a1a1a;font-style:normal;">.322</div>
<div class="t" style="left:591.00px;top:383.45px;width:41.00px;line-height:15px;font-size:13px;font-weight:normal;text-align:center;color:#1a1a1a;font-style:normal;">.398</div>
<div class="t" style="left:634.00px;top:383.45px;width:41.00px;line-height:15px;font-size:13px;font-weight:normal;text-align:center;color:#1a1a1a;font-style:normal;">.481</div>
<div class="t" style="left:677.00px;top:383.45px;width:40.00px;line-height:15px;font-size:13px;font-weight:normal;text-align:center;color:#1a1a1a;font-style:normal;">.573</div>
<div class="t" style="left:6.00px;top:435.90px;width:87.50px;line-height:15px;font-size:13px;font-weight:normal;text-align:center;color:#1a1a1a;font-style:normal;">2" x 1/4"</div>
<div class="t" style="left:95.50px;top:413.50px;width:101.50px;line-height:15px;font-size:13px;font-weight:normal;text-align:center;color:#1a1a1a;font-style:normal;">19AI4</div>
<div class="t" style="left:95.50px;top:428.70px;width:101.50px;line-height:15px;font-size:13px;font-weight:normal;text-align:center;color:#1a1a1a;font-style:normal;">3.4#</div>
<div class="t" style="left:95.50px;top:450.70px;width:101.50px;line-height:15px;font-size:13px;font-weight:normal;text-align:center;color:#1a1a1a;font-style:normal;">19AI2</div>
<div class="t" style="left:95.50px;top:465.70px;width:101.50px;line-height:15px;font-size:13px;font-weight:normal;text-align:center;color:#1a1a1a;font-style:normal;">3.8#</div>
<div class="t" style="left:199.00px;top:436.30px;width:39.50px;line-height:15px;font-size:13px;font-weight:normal;text-align:center;color:#1a1a1a;font-style:normal;">75"</div>
<div class="t" style="left:240.50px;top:436.30px;width:71.00px;line-height:15px;font-size:13px;font-weight:normal;text-align:center;color:#1a1a1a;font-style:normal;">1.341</div>
<div class="t" style="left:313.50px;top:404.50px;width:19.50px;line-height:15px;font-size:13px;font-weight:normal;text-align:center;color:#1a1a1a;font-style:normal;">U</div>
<div class="t" style="left:335.00px;top:404.50px;width:40.00px;line-height:15px;font-size:13px;font-weight:normal;text-align:center;color:#1a1a1a;font-style:normal;">2682</div>
<div class="t" style="left:377.00px;top:404.50px;width:41.00px;line-height:15px;font-size:13px;font-weight:normal;text-align:center;color:#1a1a1a;font-style:normal;">1716</div>
<div class="t" style="left:420.00px;top:404.50px;width:41.00px;line-height:15px;font-size:13px;font-weight:normal;text-align:center;color:#1a1a1a;font-style:normal;">1192</div>
<div class="t" style="left:463.00px;top:404.50px;width:40.00px;line-height:15px;font-size:13px;font-weight:normal;text-align:center;color:#1a1a1a;font-style:normal;">876</div>
<div class="t" style="left:505.00px;top:404.50px;width:41.00px;line-height:15px;font-size:13px;font-weight:normal;text-align:center;color:#1a1a1a;font-style:normal;">670</div>
<div class="t" style="left:548.00px;top:404.50px;width:41.00px;line-height:15px;font-size:13px;font-weight:normal;text-align:center;color:#1a1a1a;font-style:normal;">530</div>
<div class="t" style="left:591.00px;top:404.50px;width:41.00px;line-height:15px;font-size:13px;font-weight:normal;text-align:center;color:#1a1a1a;font-style:normal;">429</div>
<div class="t" style="left:634.00px;top:404.50px;width:41.00px;line-height:15px;font-size:13px;font-weight:normal;text-align:center;color:#1a1a1a;font-style:normal;">355</div>
<div class="t" style="left:677.00px;top:404.50px;width:40.00px;line-height:15px;font-size:13px;font-weight:normal;text-align:center;color:#1a1a1a;font-style:normal;">298</div>
<div class="t" style="left:719.00px;top:404.50px;width:41.00px;line-height:15px;font-size:13px;font-weight:normal;text-align:center;color:#1a1a1a;font-style:normal;">254</div>
<div class="t" style="left:313.50px;top:425.50px;width:19.50px;line-height:15px;font-size:13px;font-weight:normal;text-align:center;color:#1a1a1a;font-style:normal;">D</div>
<div class="t" style="left:335.00px;top:425.50px;width:40.00px;line-height:15px;font-size:13px;font-weight:normal;text-align:center;color:#1a1a1a;font-style:normal;">.070</div>
<div class="t" style="left:377.00px;top:425.50px;width:41.00px;line-height:15px;font-size:13px;font-weight:normal;text-align:center;color:#1a1a1a;font-style:normal;">.109</div>
<div class="t" style="left:420.00px;top:425.50px;width:41.00px;line-height:15px;font-size:13px;font-weight:normal;text-align:center;color:#1a1a1a;font-style:normal;">.157</div>
<div class="t" style="left:463.00px;top:425.50px;width:40.00px;line-height:15px;font-size:13px;font-weight:normal;text-align:center;color:#1a1a1a;font-style:normal;">.214</div>
<div class="t" style="left:505.00px;top:425.50px;width:41.00px;line-height:15px;font-size:13px;font-weight:normal;text-align:center;color:#1a1a1a;font-style:normal;">.279</div>
<div class="t" style="left:548.00px;top:425.50px;width:41.00px;line-height:15px;font-size:13px;font-weight:normal;text-align:center;color:#1a1a1a;font-style:normal;">.354</div>
<div class="t" style="left:591.00px;top:425.50px;width:41.00px;line-height:15px;font-size:13px;font-weight:normal;text-align:center;color:#1a1a1a;font-style:normal;">.436</div>
<div class="t" style="left:634.00px;top:425.50px;width:41.00px;line-height:15px;font-size:13px;font-weight:normal;text-align:center;color:#1a1a1a;font-style:normal;">.529</div>
<div class="t" style="left:677.00px;top:425.50px;width:40.00px;line-height:15px;font-size:13px;font-weight:normal;text-align:center;color:#1a1a1a;font-style:normal;">.629</div>
<div class="t" style="left:719.00px;top:425.50px;width:41.00px;line-height:15px;font-size:13px;font-weight:normal;text-align:center;color:#1a1a1a;font-style:normal;">.738</div>
<div class="t" style="left:313.50px;top:446.50px;width:19.50px;line-height:15px;font-size:13px;font-weight:normal;text-align:center;color:#1a1a1a;font-style:normal;">C</div>
<div class="t" style="left:335.00px;top:446.50px;width:40.00px;line-height:15px;font-size:13px;font-weight:normal;text-align:center;color:#1a1a1a;font-style:normal;">2682</div>
<div class="t" style="left:377.00px;top:446.50px;width:41.00px;line-height:15px;font-size:13px;font-weight:normal;text-align:center;color:#1a1a1a;font-style:normal;">2145</div>
<div class="t" style="left:420.00px;top:446.50px;width:41.00px;line-height:15px;font-size:13px;font-weight:normal;text-align:center;color:#1a1a1a;font-style:normal;">1788</div>
<div class="t" style="left:463.00px;top:446.50px;width:40.00px;line-height:15px;font-size:13px;font-weight:normal;text-align:center;color:#1a1a1a;font-style:normal;">1532</div>
<div class="t" style="left:505.00px;top:446.50px;width:41.00px;line-height:15px;font-size:13px;font-weight:normal;text-align:center;color:#1a1a1a;font-style:normal;">1341</div>
<div class="t" style="left:548.00px;top:446.50px;width:41.00px;line-height:15px;font-size:13px;font-weight:normal;text-align:center;color:#1a1a1a;font-style:normal;">1192</div>
<div class="t" style="left:591.00px;top:446.50px;width:41.00px;line-height:15px;font-size:13px;font-weight:normal;text-align:center;color:#1a1a1a;font-style:normal;">1073</div>
<div class="t" style="left:634.00px;top:446.50px;width:41.00px;line-height:15px;font-size:13px;font-weight:normal;text-align:center;color:#1a1a1a;font-style:normal;">975</div>
<div class="t" style="left:677.00px;top:446.50px;width:40.00px;line-height:15px;font-size:13px;font-weight:normal;text-align:center;color:#1a1a1a;font-style:normal;">894</div>
<div class="t" style="left:719.00px;top:446.50px;width:41.00px;line-height:15px;font-size:13px;font-weight:normal;text-align:center;color:#1a1a1a;font-style:normal;">825</div>
<div class="t" style="left:313.50px;top:467.50px;width:19.50px;line-height:15px;font-size:13px;font-weight:normal;text-align:center;color:#1a1a1a;font-style:normal;">D</div>
<div class="t" style="left:335.00px;top:467.50px;width:40.00px;line-height:15px;font-size:13px;font-weight:normal;text-align:center;color:#1a1a1a;font-style:normal;">.056</div>
<div class="t" style="left:377.00px;top:467.50px;width:41.00px;line-height:15px;font-size:13px;font-weight:normal;text-align:center;color:#1a1a1a;font-style:normal;">.087</div>
<div class="t" style="left:420.00px;top:467.50px;width:41.00px;line-height:15px;font-size:13px;font-weight:normal;text-align:center;color:#1a1a1a;font-style:normal;">.126</div>
<div class="t" style="left:463.00px;top:467.50px;width:40.00px;line-height:15px;font-size:13px;font-weight:normal;text-align:center;color:#1a1a1a;font-style:normal;">.171</div>
<div class="t" style="left:505.00px;top:467.50px;width:41.00px;line-height:15px;font-size:13px;font-weight:normal;text-align:center;color:#1a1a1a;font-style:normal;">.224</div>
<div class="t" style="left:548.00px;top:467.50px;width:41.00px;line-height:15px;font-size:13px;font-weight:normal;text-align:center;color:#1a1a1a;font-style:normal;">.283</div>
<div class="t" style="left:591.00px;top:467.50px;width:41.00px;line-height:15px;font-size:13px;font-weight:normal;text-align:center;color:#1a1a1a;font-style:normal;">.349</div>
<div class="t" style="left:634.00px;top:467.50px;width:41.00px;line-height:15px;font-size:13px;font-weight:normal;text-align:center;color:#1a1a1a;font-style:normal;">.422</div>
<div class="t" style="left:677.00px;top:467.50px;width:40.00px;line-height:15px;font-size:13px;font-weight:normal;text-align:center;color:#1a1a1a;font-style:normal;">.503</div>
<div class="t" style="left:719.00px;top:467.50px;width:41.00px;line-height:15px;font-size:13px;font-weight:normal;text-align:center;color:#1a1a1a;font-style:normal;">.590</div>
<div class="t" style="left:6.00px;top:520.35px;width:87.50px;line-height:15px;font-size:13px;font-weight:normal;text-align:center;color:#1a1a1a;font-style:normal;">2-1/4" x 1/4"</div>
<div class="t" style="left:95.50px;top:497.95px;width:101.50px;line-height:15px;font-size:13px;font-weight:normal;text-align:center;color:#1a1a1a;font-style:normal;">19AI4</div>
<div class="t" style="left:95.50px;top:513.15px;width:101.50px;line-height:15px;font-size:13px;font-weight:normal;text-align:center;color:#1a1a1a;font-style:normal;">3.8#</div>
<div class="t" style="left:95.50px;top:535.15px;width:101.50px;line-height:15px;font-size:13px;font-weight:normal;text-align:center;color:#1a1a1a;font-style:normal;">19AI2</div>
<div class="t" style="left:95.50px;top:550.15px;width:101.50px;line-height:15px;font-size:13px;font-weight:normal;text-align:center;color:#1a1a1a;font-style:normal;">4.2#</div>
<div class="t" style="left:199.00px;top:520.75px;width:39.50px;line-height:15px;font-size:13px;font-weight:normal;text-align:center;color:#1a1a1a;font-style:normal;">82"</div>
<div class="t" style="left:240.50px;top:520.75px;width:71.00px;line-height:15px;font-size:13px;font-weight:normal;text-align:center;color:#1a1a1a;font-style:normal;">1.673</div>
<div class="t" style="left:313.50px;top:488.50px;width:19.50px;line-height:15px;font-size:13px;font-weight:normal;text-align:center;color:#1a1a1a;font-style:normal;">U</div>
<div class="t" style="left:335.00px;top:488.50px;width:40.00px;line-height:15px;font-size:13px;font-weight:normal;text-align:center;color:#1a1a1a;font-style:normal;">3347</div>
<div class="t" style="left:377.00px;top:488.50px;width:41.00px;line-height:15px;font-size:13px;font-weight:normal;text-align:center;color:#1a1a1a;font-style:normal;">2142</div>
<div class="t" style="left:420.00px;top:488.50px;width:41.00px;line-height:15px;font-size:13px;font-weight:normal;text-align:center;color:#1a1a1a;font-style:normal;">1487</div>
<div class="t" style="left:463.00px;top:488.50px;width:40.00px;line-height:15px;font-size:13px;font-weight:normal;text-align:center;color:#1a1a1a;font-style:normal;">1093</div>
<div class="t" style="left:505.00px;top:488.50px;width:41.00px;line-height:15px;font-size:13px;font-weight:normal;text-align:center;color:#1a1a1a;font-style:normal;">837</div>
<div class="t" style="left:548.00px;top:488.50px;width:41.00px;line-height:15px;font-size:13px;font-weight:normal;text-align:center;color:#1a1a1a;font-style:normal;">661</div>
<div class="t" style="left:591.00px;top:488.50px;width:41.00px;line-height:15px;font-size:13px;font-weight:normal;text-align:center;color:#1a1a1a;font-style:normal;">535</div>
<div class="t" style="left:634.00px;top:488.50px;width:41.00px;line-height:15px;font-size:13px;font-weight:normal;text-align:center;color:#1a1a1a;font-style:normal;">443</div>
<div class="t" style="left:677.00px;top:488.50px;width:40.00px;line-height:15px;font-size:13px;font-weight:normal;text-align:center;color:#1a1a1a;font-style:normal;">372</div>
<div class="t" style="left:719.00px;top:488.50px;width:41.00px;line-height:15px;font-size:13px;font-weight:normal;text-align:center;color:#1a1a1a;font-style:normal;">317</div>
<div class="t" style="left:762.00px;top:488.50px;width:41.00px;line-height:15px;font-size:13px;font-weight:normal;text-align:center;color:#1a1a1a;font-style:normal;">273</div>
<div class="t" style="left:313.50px;top:509.73px;width:19.50px;line-height:15px;font-size:13px;font-weight:normal;text-align:center;color:#1a1a1a;font-style:normal;">D</div>
<div class="t" style="left:335.00px;top:509.73px;width:40.00px;line-height:15px;font-size:13px;font-weight:normal;text-align:center;color:#1a1a1a;font-style:normal;">.062</div>
<div class="t" style="left:377.00px;top:509.73px;width:41.00px;line-height:15px;font-size:13px;font-weight:normal;text-align:center;color:#1a1a1a;font-style:normal;">.097</div>
<div class="t" style="left:420.00px;top:509.73px;width:41.00px;line-height:15px;font-size:13px;font-weight:normal;text-align:center;color:#1a1a1a;font-style:normal;">.140</div>
<div class="t" style="left:463.00px;top:509.73px;width:40.00px;line-height:15px;font-size:13px;font-weight:normal;text-align:center;color:#1a1a1a;font-style:normal;">.191</div>
<div class="t" style="left:505.00px;top:509.73px;width:41.00px;line-height:15px;font-size:13px;font-weight:normal;text-align:center;color:#1a1a1a;font-style:normal;">.249</div>
<div class="t" style="left:548.00px;top:509.73px;width:41.00px;line-height:15px;font-size:13px;font-weight:normal;text-align:center;color:#1a1a1a;font-style:normal;">.315</div>
<div class="t" style="left:591.00px;top:509.73px;width:41.00px;line-height:15px;font-size:13px;font-weight:normal;text-align:center;color:#1a1a1a;font-style:normal;">.389</div>
<div class="t" style="left:634.00px;top:509.73px;width:41.00px;line-height:15px;font-size:13px;font-weight:normal;text-align:center;color:#1a1a1a;font-style:normal;">.472</div>
<div class="t" style="left:677.00px;top:509.73px;width:40.00px;line-height:15px;font-size:13px;font-weight:normal;text-align:center;color:#1a1a1a;font-style:normal;">.561</div>
<div class="t" style="left:719.00px;top:509.73px;width:41.00px;line-height:15px;font-size:13px;font-weight:normal;text-align:center;color:#1a1a1a;font-style:normal;">.658</div>
<div class="t" style="left:762.00px;top:509.73px;width:41.00px;line-height:15px;font-size:13px;font-weight:normal;text-align:center;color:#1a1a1a;font-style:normal;">.763</div>
<div class="t" style="left:313.50px;top:530.95px;width:19.50px;line-height:15px;font-size:13px;font-weight:normal;text-align:center;color:#1a1a1a;font-style:normal;">C</div>
<div class="t" style="left:335.00px;top:530.95px;width:40.00px;line-height:15px;font-size:13px;font-weight:normal;text-align:center;color:#1a1a1a;font-style:normal;">3347</div>
<div class="t" style="left:377.00px;top:530.95px;width:41.00px;line-height:15px;font-size:13px;font-weight:normal;text-align:center;color:#1a1a1a;font-style:normal;">2677</div>
<div class="t" style="left:420.00px;top:530.95px;width:41.00px;line-height:15px;font-size:13px;font-weight:normal;text-align:center;color:#1a1a1a;font-style:normal;">2231</div>
<div class="t" style="left:463.00px;top:530.95px;width:40.00px;line-height:15px;font-size:13px;font-weight:normal;text-align:center;color:#1a1a1a;font-style:normal;">1912</div>
<div class="t" style="left:505.00px;top:530.95px;width:41.00px;line-height:15px;font-size:13px;font-weight:normal;text-align:center;color:#1a1a1a;font-style:normal;">1673</div>
<div class="t" style="left:548.00px;top:530.95px;width:41.00px;line-height:15px;font-size:13px;font-weight:normal;text-align:center;color:#1a1a1a;font-style:normal;">1487</div>
<div class="t" style="left:591.00px;top:530.95px;width:41.00px;line-height:15px;font-size:13px;font-weight:normal;text-align:center;color:#1a1a1a;font-style:normal;">1339</div>
<div class="t" style="left:634.00px;top:530.95px;width:41.00px;line-height:15px;font-size:13px;font-weight:normal;text-align:center;color:#1a1a1a;font-style:normal;">1217</div>
<div class="t" style="left:677.00px;top:530.95px;width:40.00px;line-height:15px;font-size:13px;font-weight:normal;text-align:center;color:#1a1a1a;font-style:normal;">1116</div>
<div class="t" style="left:719.00px;top:530.95px;width:41.00px;line-height:15px;font-size:13px;font-weight:normal;text-align:center;color:#1a1a1a;font-style:normal;">1030</div>
<div class="t" style="left:762.00px;top:530.95px;width:41.00px;line-height:15px;font-size:13px;font-weight:normal;text-align:center;color:#1a1a1a;font-style:normal;">956</div>
<div class="t" style="left:313.50px;top:552.17px;width:19.50px;line-height:15px;font-size:13px;font-weight:normal;text-align:center;color:#1a1a1a;font-style:normal;">D</div>
<div class="t" style="left:335.00px;top:552.17px;width:40.00px;line-height:15px;font-size:13px;font-weight:normal;text-align:center;color:#1a1a1a;font-style:normal;">.050</div>
<div class="t" style="left:377.00px;top:552.17px;width:41.00px;line-height:15px;font-size:13px;font-weight:normal;text-align:center;color:#1a1a1a;font-style:normal;">.078</div>
<div class="t" style="left:420.00px;top:552.17px;width:41.00px;line-height:15px;font-size:13px;font-weight:normal;text-align:center;color:#1a1a1a;font-style:normal;">.112</div>
<div class="t" style="left:463.00px;top:552.17px;width:40.00px;line-height:15px;font-size:13px;font-weight:normal;text-align:center;color:#1a1a1a;font-style:normal;">.153</div>
<div class="t" style="left:505.00px;top:552.17px;width:41.00px;line-height:15px;font-size:13px;font-weight:normal;text-align:center;color:#1a1a1a;font-style:normal;">.199</div>
<div class="t" style="left:548.00px;top:552.17px;width:41.00px;line-height:15px;font-size:13px;font-weight:normal;text-align:center;color:#1a1a1a;font-style:normal;">.252</div>
<div class="t" style="left:591.00px;top:552.17px;width:41.00px;line-height:15px;font-size:13px;font-weight:normal;text-align:center;color:#1a1a1a;font-style:normal;">.312</div>
<div class="t" style="left:634.00px;top:552.17px;width:41.00px;line-height:15px;font-size:13px;font-weight:normal;text-align:center;color:#1a1a1a;font-style:normal;">.377</div>
<div class="t" style="left:677.00px;top:552.17px;width:40.00px;line-height:15px;font-size:13px;font-weight:normal;text-align:center;color:#1a1a1a;font-style:normal;">.449</div>
<div class="t" style="left:719.00px;top:552.17px;width:41.00px;line-height:15px;font-size:13px;font-weight:normal;text-align:center;color:#1a1a1a;font-style:normal;">.527</div>
<div class="t" style="left:762.00px;top:552.17px;width:41.00px;line-height:15px;font-size:13px;font-weight:normal;text-align:center;color:#1a1a1a;font-style:normal;">.610</div>
<div class="t" style="left:6.00px;top:604.60px;width:87.50px;line-height:15px;font-size:13px;font-weight:normal;text-align:center;color:#1a1a1a;font-style:normal;">2-1/2" x 1/4"</div>
<div class="t" style="left:95.50px;top:582.20px;width:101.50px;line-height:15px;font-size:13px;font-weight:normal;text-align:center;color:#1a1a1a;font-style:normal;">19AI4</div>
<div class="t" style="left:95.50px;top:597.40px;width:101.50px;line-height:15px;font-size:13px;font-weight:normal;text-align:center;color:#1a1a1a;font-style:normal;">4.2#</div>
<div class="t" style="left:95.50px;top:619.40px;width:101.50px;line-height:15px;font-size:13px;font-weight:normal;text-align:center;color:#1a1a1a;font-style:normal;">19AI2</div>
<div class="t" style="left:95.50px;top:634.40px;width:101.50px;line-height:15px;font-size:13px;font-weight:normal;text-align:center;color:#1a1a1a;font-style:normal;">4.6#</div>
<div class="t" style="left:199.00px;top:605.00px;width:39.50px;line-height:15px;font-size:13px;font-weight:normal;text-align:center;color:#1a1a1a;font-style:normal;">88"</div>
<div class="t" style="left:240.50px;top:605.00px;width:71.00px;line-height:15px;font-size:13px;font-weight:normal;text-align:center;color:#1a1a1a;font-style:normal;">2.068</div>
<div class="t" style="left:313.50px;top:573.40px;width:19.50px;line-height:15px;font-size:13px;font-weight:normal;text-align:center;color:#1a1a1a;font-style:normal;">U</div>
<div class="t" style="left:335.00px;top:573.40px;width:40.00px;line-height:15px;font-size:13px;font-weight:normal;text-align:center;color:#1a1a1a;font-style:normal;">4137</div>
<div class="t" style="left:377.00px;top:573.40px;width:41.00px;line-height:15px;font-size:13px;font-weight:normal;text-align:center;color:#1a1a1a;font-style:normal;">2648</div>
<div class="t" style="left:420.00px;top:573.40px;width:41.00px;line-height:15px;font-size:13px;font-weight:normal;text-align:center;color:#1a1a1a;font-style:normal;">1839</div>
<div class="t" style="left:463.00px;top:573.40px;width:40.00px;line-height:15px;font-size:13px;font-weight:normal;text-align:center;color:#1a1a1a;font-style:normal;">1351</div>
<div class="t" style="left:505.00px;top:573.40px;width:41.00px;line-height:15px;font-size:13px;font-weight:normal;text-align:center;color:#1a1a1a;font-style:normal;">1034</div>
<div class="t" style="left:548.00px;top:573.40px;width:41.00px;line-height:15px;font-size:13px;font-weight:normal;text-align:center;color:#1a1a1a;font-style:normal;">817</div>
<div class="t" style="left:591.00px;top:573.40px;width:41.00px;line-height:15px;font-size:13px;font-weight:normal;text-align:center;color:#1a1a1a;font-style:normal;">662</div>
<div class="t" style="left:634.00px;top:573.40px;width:41.00px;line-height:15px;font-size:13px;font-weight:normal;text-align:center;color:#1a1a1a;font-style:normal;">547</div>
<div class="t" style="left:677.00px;top:573.40px;width:40.00px;line-height:15px;font-size:13px;font-weight:normal;text-align:center;color:#1a1a1a;font-style:normal;">460</div>
<div class="t" style="left:719.00px;top:573.40px;width:41.00px;line-height:15px;font-size:13px;font-weight:normal;text-align:center;color:#1a1a1a;font-style:normal;">392</div>
<div class="t" style="left:762.00px;top:573.40px;width:41.00px;line-height:15px;font-size:13px;font-weight:normal;text-align:center;color:#1a1a1a;font-style:normal;">338</div>
<div class="t" style="left:805.00px;top:573.40px;width:40.00px;line-height:15px;font-size:13px;font-weight:normal;text-align:center;color:#1a1a1a;font-style:normal;">259</div>
<div class="t" style="left:313.50px;top:594.30px;width:19.50px;line-height:15px;font-size:13px;font-weight:normal;text-align:center;color:#1a1a1a;font-style:normal;">D</div>
<div class="t" style="left:335.00px;top:594.30px;width:40.00px;line-height:15px;font-size:13px;font-weight:normal;text-align:center;color:#1a1a1a;font-style:normal;">.056</div>
<div class="t" style="left:377.00px;top:594.30px;width:41.00px;line-height:15px;font-size:13px;font-weight:normal;text-align:center;color:#1a1a1a;font-style:normal;">.088</div>
<div class="t" style="left:420.00px;top:594.30px;width:41.00px;line-height:15px;font-size:13px;font-weight:normal;text-align:center;color:#1a1a1a;font-style:normal;">.126</div>
<div class="t" style="left:463.00px;top:594.30px;width:40.00px;line-height:15px;font-size:13px;font-weight:normal;text-align:center;color:#1a1a1a;font-style:normal;">.172</div>
<div class="t" style="left:505.00px;top:594.30px;width:41.00px;line-height:15px;font-size:13px;font-weight:normal;text-align:center;color:#1a1a1a;font-style:normal;">.225</div>
<div class="t" style="left:548.00px;top:594.30px;width:41.00px;line-height:15px;font-size:13px;font-weight:normal;text-align:center;color:#1a1a1a;font-style:normal;">.285</div>
<div class="t" style="left:591.00px;top:594.30px;width:41.00px;line-height:15px;font-size:13px;font-weight:normal;text-align:center;color:#1a1a1a;font-style:normal;">.351</div>
<div class="t" style="left:634.00px;top:594.30px;width:41.00px;line-height:15px;font-size:13px;font-weight:normal;text-align:center;color:#1a1a1a;font-style:normal;">.425</div>
<div class="t" style="left:677.00px;top:594.30px;width:40.00px;line-height:15px;font-size:13px;font-weight:normal;text-align:center;color:#1a1a1a;font-style:normal;">.506</div>
<div class="t" style="left:719.00px;top:594.30px;width:41.00px;line-height:15px;font-size:13px;font-weight:normal;text-align:center;color:#1a1a1a;font-style:normal;">.594</div>
<div class="t" style="left:762.00px;top:594.30px;width:41.00px;line-height:15px;font-size:13px;font-weight:normal;text-align:center;color:#1a1a1a;font-style:normal;">.689</div>
<div class="t" style="left:805.00px;top:594.30px;width:40.00px;line-height:15px;font-size:13px;font-weight:normal;text-align:center;color:#1a1a1a;font-style:normal;">.901</div>
<div class="t" style="left:313.50px;top:615.20px;width:19.50px;line-height:15px;font-size:13px;font-weight:normal;text-align:center;color:#1a1a1a;font-style:normal;">C</div>
<div class="t" style="left:335.00px;top:615.20px;width:40.00px;line-height:15px;font-size:13px;font-weight:normal;text-align:center;color:#1a1a1a;font-style:normal;">4137</div>
<div class="t" style="left:377.00px;top:615.20px;width:41.00px;line-height:15px;font-size:13px;font-weight:normal;text-align:center;color:#1a1a1a;font-style:normal;">3310</div>
<div class="t" style="left:420.00px;top:615.20px;width:41.00px;line-height:15px;font-size:13px;font-weight:normal;text-align:center;color:#1a1a1a;font-style:normal;">2758</div>
<div class="t" style="left:463.00px;top:615.20px;width:40.00px;line-height:15px;font-size:13px;font-weight:normal;text-align:center;color:#1a1a1a;font-style:normal;">2364</div>
<div class="t" style="left:505.00px;top:615.20px;width:41.00px;line-height:15px;font-size:13px;font-weight:normal;text-align:center;color:#1a1a1a;font-style:normal;">2068</div>
<div class="t" style="left:548.00px;top:615.20px;width:41.00px;line-height:15px;font-size:13px;font-weight:normal;text-align:center;color:#1a1a1a;font-style:normal;">1839</div>
<div class="t" style="left:591.00px;top:615.20px;width:41.00px;line-height:15px;font-size:13px;font-weight:normal;text-align:center;color:#1a1a1a;font-style:normal;">1655</div>
<div class="t" style="left:634.00px;top:615.20px;width:41.00px;line-height:15px;font-size:13px;font-weight:normal;text-align:center;color:#1a1a1a;font-style:normal;">1504</div>
<div class="t" style="left:677.00px;top:615.20px;width:40.00px;line-height:15px;font-size:13px;font-weight:normal;text-align:center;color:#1a1a1a;font-style:normal;">1379</div>
<div class="t" style="left:719.00px;top:615.20px;width:41.00px;line-height:15px;font-size:13px;font-weight:normal;text-align:center;color:#1a1a1a;font-style:normal;">1273</div>
<div class="t" style="left:762.00px;top:615.20px;width:41.00px;line-height:15px;font-size:13px;font-weight:normal;text-align:center;color:#1a1a1a;font-style:normal;">1182</div>
<div class="t" style="left:805.00px;top:615.20px;width:40.00px;line-height:15px;font-size:13px;font-weight:normal;text-align:center;color:#1a1a1a;font-style:normal;">1034</div>
<div class="t" style="left:313.50px;top:636.10px;width:19.50px;line-height:15px;font-size:13px;font-weight:normal;text-align:center;color:#1a1a1a;font-style:normal;">D</div>
<div class="t" style="left:335.00px;top:636.10px;width:40.00px;line-height:15px;font-size:13px;font-weight:normal;text-align:center;color:#1a1a1a;font-style:normal;">.045</div>
<div class="t" style="left:377.00px;top:636.10px;width:41.00px;line-height:15px;font-size:13px;font-weight:normal;text-align:center;color:#1a1a1a;font-style:normal;">.070</div>
<div class="t" style="left:420.00px;top:636.10px;width:41.00px;line-height:15px;font-size:13px;font-weight:normal;text-align:center;color:#1a1a1a;font-style:normal;">.101</div>
<div class="t" style="left:463.00px;top:636.10px;width:40.00px;line-height:15px;font-size:13px;font-weight:normal;text-align:center;color:#1a1a1a;font-style:normal;">.138</div>
<div class="t" style="left:505.00px;top:636.10px;width:41.00px;line-height:15px;font-size:13px;font-weight:normal;text-align:center;color:#1a1a1a;font-style:normal;">.180</div>
<div class="t" style="left:548.00px;top:636.10px;width:41.00px;line-height:15px;font-size:13px;font-weight:normal;text-align:center;color:#1a1a1a;font-style:normal;">.228</div>
<div class="t" style="left:591.00px;top:636.10px;width:41.00px;line-height:15px;font-size:13px;font-weight:normal;text-align:center;color:#1a1a1a;font-style:normal;">.281</div>
<div class="t" style="left:634.00px;top:636.10px;width:41.00px;line-height:15px;font-size:13px;font-weight:normal;text-align:center;color:#1a1a1a;font-style:normal;">.340</div>
<div class="t" style="left:677.00px;top:636.10px;width:40.00px;line-height:15px;font-size:13px;font-weight:normal;text-align:center;color:#1a1a1a;font-style:normal;">.405</div>
<div class="t" style="left:719.00px;top:636.10px;width:41.00px;line-height:15px;font-size:13px;font-weight:normal;text-align:center;color:#1a1a1a;font-style:normal;">.475</div>
<div class="t" style="left:762.00px;top:636.10px;width:41.00px;line-height:15px;font-size:13px;font-weight:normal;text-align:center;color:#1a1a1a;font-style:normal;">.551</div>
<div class="t" style="left:805.00px;top:636.10px;width:40.00px;line-height:15px;font-size:13px;font-weight:normal;text-align:center;color:#1a1a1a;font-style:normal;">.719</div>
<div class="t" style="left:557.40px;top:71.20px;width:290.00px;line-height:15px;font-size:13px;font-weight:bold;text-align:left;color:#1a1a1a;font-style:normal;">U=Safe uniform load, lb/sq ft</div>
<div class="t" style="left:557.40px;top:86.50px;width:290.00px;line-height:15px;font-size:13px;font-weight:bold;text-align:left;color:#1a1a1a;font-style:normal;">C=Safe concentrated load, lb/ft of grating</div>
<div class="t" style="left:573.00px;top:101.00px;width:270.00px;line-height:15px;font-size:13px;font-weight:bold;text-align:left;color:#1a1a1a;font-style:normal;">width, at mid-span</div>
<div class="t" style="left:557.40px;top:116.20px;width:290.00px;line-height:15px;font-size:13px;font-weight:bold;text-align:left;color:#1a1a1a;font-style:normal;">D=Deflection in inches</div>
<div class="t" style="left:563.80px;top:129.30px;width:290.00px;line-height:15px;font-size:13px;font-weight:bold;text-align:left;color:#1f58a6;font-style:normal;letter-spacing:0.03px;">Data is theoretical and based on 12,000 psi.</div>
<div style="left:702.00px;top:166.50px;width:130.50px;height:112.50px;background:#111;"></div>
<div style="left:704.00px;top:168.50px;width:126.50px;height:21.20px;background:#c7cce9;"></div>
<div style="left:704.00px;top:191.60px;width:62.20px;height:21.70px;background:#d3d3d3;"></div>
<div style="left:768.10px;top:191.60px;width:62.40px;height:21.70px;background:#ffffff;"></div>
<div style="left:704.00px;top:215.20px;width:62.20px;height:20.10px;background:#d3d3d3;"></div>
<div style="left:768.10px;top:215.20px;width:62.40px;height:20.10px;background:#ffffff;"></div>
<div style="left:704.00px;top:237.50px;width:126.50px;height:39.50px;background:#d3d3d3;"></div>
<div class="t" style="left:702.00px;top:170.50px;width:130.50px;line-height:16px;font-size:14.3px;font-weight:bold;text-align:center;color:#1a1a1a;font-style:normal;">% Open Area<sup>1</sup></div>
<div class="t" style="left:704.00px;top:193.60px;width:62.20px;line-height:15px;font-size:13px;font-weight:bold;text-align:center;color:#1a1a1a;font-style:normal;">4”cc</div>
<div class="t" style="left:768.10px;top:193.60px;width:62.40px;line-height:15px;font-size:13px;font-weight:normal;text-align:center;color:#1a1a1a;font-style:normal;">73%</div>
<div class="t" style="left:704.00px;top:216.80px;width:62.20px;line-height:15px;font-size:13px;font-weight:bold;text-align:center;color:#1a1a1a;font-style:normal;">2”cc</div>
<div class="t" style="left:768.10px;top:216.80px;width:62.40px;line-height:15px;font-size:13px;font-weight:normal;text-align:center;color:#1a1a1a;font-style:normal;">67%</div>
<div class="t" style="left:702.00px;top:238.10px;width:130.50px;line-height:13px;font-size:11px;font-weight:bold;text-align:center;color:#1a1a1a;font-style:normal;letter-spacing:0px;"><sup class="s">1</sup>Open Area % for</div>
<div class="t" style="left:702.00px;top:246.70px;width:130.50px;line-height:13px;font-size:11px;font-weight:bold;text-align:center;color:#1a1a1a;font-style:normal;">reference only - <i style="font-size:8.8px">%’s will</i></div>
<div class="t" style="left:702.00px;top:257.00px;width:130.50px;line-height:10px;font-size:8.8px;font-weight:bold;text-align:center;color:#1a1a1a;font-style:italic;">vary with material &amp; mfg.</div>
<div class="t" style="left:702.00px;top:265.60px;width:130.50px;line-height:10px;font-size:8.8px;font-weight:bold;text-align:center;color:#1a1a1a;font-style:italic;">process.</div>
<div class="t" style="left:8.20px;top:658.00px;width:830.00px;line-height:15px;font-size:13px;font-weight:normal;text-align:left;color:#1a1a1a;font-style:normal;">***Note: Weight depends on panel width, cross bar selection, mill tolerance and manufacturing tolerance.</div>
<div class="t" style="left:8.20px;top:678.50px;width:835.00px;line-height:15px;font-size:13px;font-weight:normal;text-align:left;color:#1a1a1a;font-style:normal;"><b style="text-decoration:underline">Deflection</b><b>:</b>&nbsp; <span style="word-spacing:0.27px">To ensure safe pedestrian comfort, maximum deflection (D) should be limited to 1/4” for uniform load of 100 psf (denoted by values</span></div>
<div class="t" style="left:8.20px;top:694.50px;width:835.00px;line-height:15px;font-size:13px;font-weight:normal;text-align:left;color:#1a1a1a;font-style:normal;"><span style="word-spacing:0.17px">to the left of heavy line in table above), however, this can be exceeded for non-pedestrian loading conditions at engineer’s discretion.</span></div>
</div></body></html>
